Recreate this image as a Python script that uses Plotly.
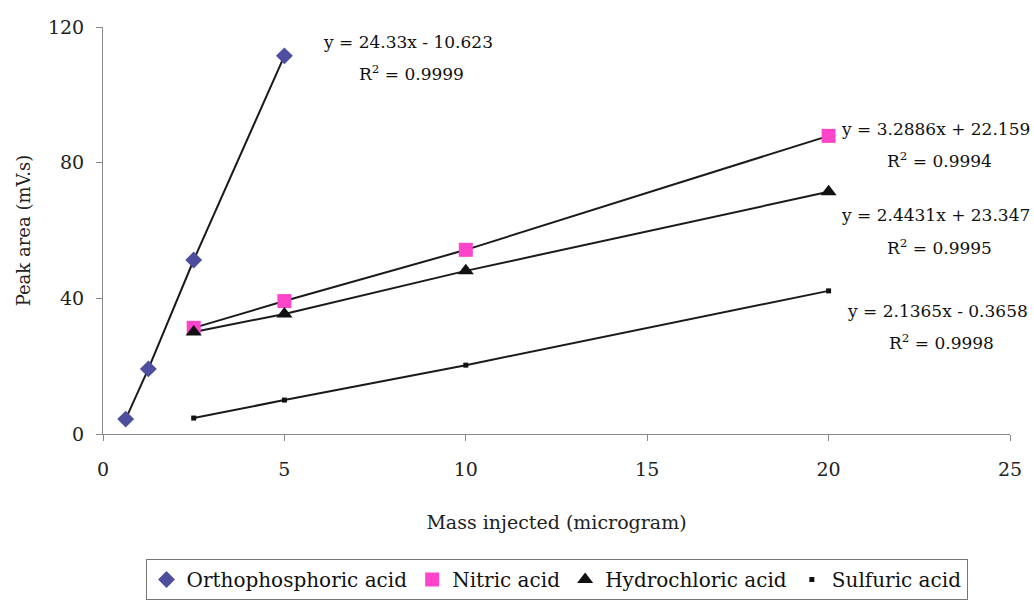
import plotly.graph_objects as go

# Data
x_ortho = [0.625, 1.25, 2.5, 5]
y_ortho = [4.4, 19.2, 51.3, 111.5]
x_other = [2.5, 5, 10, 20]
y_nitric = [31.3, 39.2, 54.3, 87.9]
y_hcl = [30.1, 35.4, 48.1, 71.4]
y_sulf = [4.7, 10.0, 20.3, 42.2]

series_names = ["Orthophosphoric acid", "Nitric acid", "Hydrochloric acid", "Sulfuric acid"]
equations = ["y = 24.33x - 10.623", "y = 3.2886x + 22.159", "y = 2.4431x + 23.347", "y = 2.1365x - 0.3658"]
r2_texts = ["R<sup>2</sup> = 0.9999", "R<sup>2</sup> = 0.9994", "R<sup>2</sup> = 0.9995", "R<sup>2</sup> = 0.9998"]

FONT = "DejaVu Serif"

fig = go.Figure()
specs = [
    (x_ortho, y_ortho, dict(symbol="diamond", size=13, color="#4d4f9e")),
    (x_other, y_nitric, dict(symbol="square", size=14, color="#ff44cc")),
    (x_other, y_hcl, dict(symbol="triangle-up", size=14, color="#111111")),
    (x_other, y_sulf, dict(symbol="square", size=5, color="#111111")),
]
# connecting lines (no legend)
for name, (xs, ys, mk) in zip(series_names, specs):
    fig.add_trace(go.Scatter(x=xs, y=ys, mode="lines", showlegend=False,
                             line=dict(color="#1a1a1a", width=2), hoverinfo="skip"))
# markers (legend)
for name, (xs, ys, mk) in zip(series_names, specs):
    fig.add_trace(go.Scatter(x=xs, y=ys, name=name, mode="markers", marker=mk))

# annotation positions (data coords)
eq_pos = [(8.4, 115.6, 106.3), (22.95, 90.0, 80.8), (22.95, 64.6, 55.2), (23.0, 36.3, 27.1)]
for eq, r2, (ax, y1, y2) in zip(equations, r2_texts, eq_pos):
    fig.add_annotation(x=ax, y=y1, text=eq, showarrow=False, xanchor="center",
                       font=dict(family=FONT, size=17, color="#111"))
    fig.add_annotation(x=ax + 0.1, y=y2, text=r2, showarrow=False, xanchor="center",
                       font=dict(family=FONT, size=17, color="#111"))

fig.update_layout(
    width=1034, height=600,
    margin=dict(l=103, r=21, t=27, b=166),
    paper_bgcolor="white", plot_bgcolor="white",
    font=dict(family=FONT, size=18, color="#222"),
    showlegend=True,
    legend=dict(orientation="h", x=0.5, xanchor="center", xref="paper",
                yref="container", y=0.0, yanchor="bottom",
                bordercolor="#777", borderwidth=1,
                font=dict(family=FONT, size=20, color="#111"),
                itemwidth=30, tracegroupgap=0),
    xaxis=dict(range=[0, 25], tickvals=[0, 5, 10, 15, 20, 25], showgrid=False,
               zeroline=False, showline=True, linecolor="#888", linewidth=1,
               ticks="outside", ticklen=6, tickcolor="#888", ticklabelstandoff=12,
               title=dict(text="Mass injected (microgram)", font=dict(family=FONT, size=19), standoff=36),
               tickfont=dict(family=FONT, size=19)),
    yaxis=dict(range=[0, 120], tickvals=[0, 40, 80, 120], showgrid=False,
               zeroline=False, showline=True, linecolor="#888", linewidth=1,
               ticks="outside", ticklen=6, tickcolor="#888", ticklabelstandoff=8,
               title=dict(text="Peak area (mV.s)", font=dict(family=FONT, size=18), standoff=12),
               tickfont=dict(family=FONT, size=19)),
)

fig.write_html("out.html")
